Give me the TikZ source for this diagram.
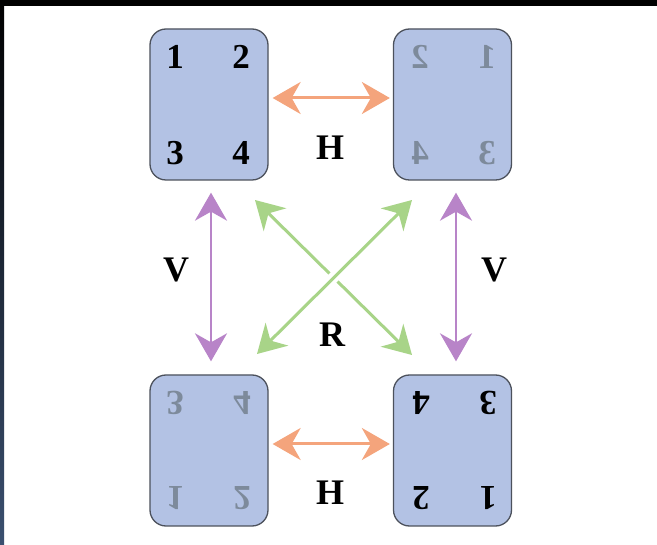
\documentclass[tikz,border=0pt]{standalone}
\usepackage{fontspec}
\setmainfont{Liberation Serif}
\usetikzlibrary{arrows.meta}
\definecolor{boxfill}{HTML}{B3C2E4}
\definecolor{boxline}{HTML}{4C515C}
\definecolor{hcol}{HTML}{F4A47C}
\definecolor{vcol}{HTML}{B884C8}
\definecolor{rcol}{HTML}{A8D488}
\definecolor{ghost}{HTML}{7D8A9B}
\definecolor{frameblue}{HTML}{3B5070}
\tikzset{
  card/.style={draw=boxline, line width=1.3pt, fill=boxfill, rounded corners=16pt,
    minimum width=118pt, minimum height=151pt, inner sep=0pt},
  digit/.style={inner sep=0pt, font=\fontsize{35}{35}\selectfont\bfseries},
  solid digit/.style={digit, text=black},
  ghost digit/.style={digit, text=ghost},
  lbl/.style={inner sep=0pt, font=\fontsize{36}{36}\selectfont\bfseries, text=black},
  twohead/.style={>={Stealth[length=28pt, width=32pt, inset=9pt]}, <->},
  harrow/.style={draw=hcol, line width=3pt, twohead},
  varrow/.style={draw=vcol, line width=2.5pt, twohead},
  rarrow/.style={draw=rcol, line width=3pt, twohead},
}
\begin{document}
\begin{tikzpicture}[x=1pt, y=-1pt]
\useasboundingbox (0,0) rectangle (657,545);
\fill[white] (0,0) rectangle (657,545);
\fill[black] (0,0) rectangle (657,6);
\shade[top color=black, bottom color=frameblue] (0,0) rectangle (4,545);

% cards
\node[card] (tl) at (209,104.5) {};
\node[card] (tr) at (452.5,104.5) {};
\node[card] (bl) at (209,450.5) {};
\node[card] (br) at (452.5,450.5) {};

% top-left: normal
\node[solid digit] (tl1) at (175,57) {1};
\node[solid digit] (tl2) at (241,57) {2};
\node[solid digit] (tl3) at (175,153) {3};
\node[solid digit] (tl4) at (241,153) {4};

% top-right: mirrored horizontally
\node[ghost digit, xscale=-1] (tr2) at (420,57) {2};
\node[ghost digit, xscale=-1] (tr1) at (487,57) {1};
\node[ghost digit, xscale=-1] (tr4) at (420,153) {4};
\node[ghost digit, xscale=-1] (tr3) at (487,153) {3};

% bottom-left: mirrored vertically
\node[ghost digit, yscale=-1] (bl3) at (175,403) {3};
\node[ghost digit, yscale=-1] (bl4) at (242,403) {4};
\node[ghost digit, yscale=-1] (bl1) at (175,498) {1};
\node[ghost digit, yscale=-1] (bl2) at (242,498) {2};

% bottom-right: rotated
\node[solid digit, rotate=180] (br4) at (421,403) {4};
\node[solid digit, rotate=180] (br3) at (488,403) {3};
\node[solid digit, rotate=180] (br2) at (421,498) {2};
\node[solid digit, rotate=180] (br1) at (488,498) {1};

% labels
\node[lbl] (h1) at (330,148) {H};
\node[lbl] (h2) at (330,493) {H};
\node[lbl] (v1) at (176,270) {V};
\node[lbl] (v2) at (494,270) {V};
\node[lbl] (r) at (332,335) {R};

% H arrows
\draw[harrow] ([xshift=4pt,yshift=6.5pt]tl.east) -- ([xshift=-3pt,yshift=6.5pt]tr.west);
\draw[harrow] ([xshift=4pt,yshift=6.5pt]bl.east) -- ([xshift=-3pt,yshift=6.5pt]br.west);

% V arrows
\draw[varrow] ([xshift=2pt,yshift=-12pt]tl.south) -- ([xshift=2pt,yshift=13pt]bl.north);
\draw[varrow] ([xshift=3.5pt,yshift=-12pt]tr.south) -- ([xshift=3.5pt,yshift=13pt]br.north);

% R arrows
\coordinate (g1) at (255,200);
\coordinate (g2) at (412,355);
\coordinate (g3) at (412,200);
\coordinate (g4) at (257,354);
\coordinate (gapa) at (341,270);
\coordinate (gapb) at (325,286);
\draw[rarrow] (g1) -- (g2);
\draw[white, line width=11pt] (gapa) -- (gapb);
\draw[rarrow] (g3) -- (g4);
\end{tikzpicture}
\end{document}
